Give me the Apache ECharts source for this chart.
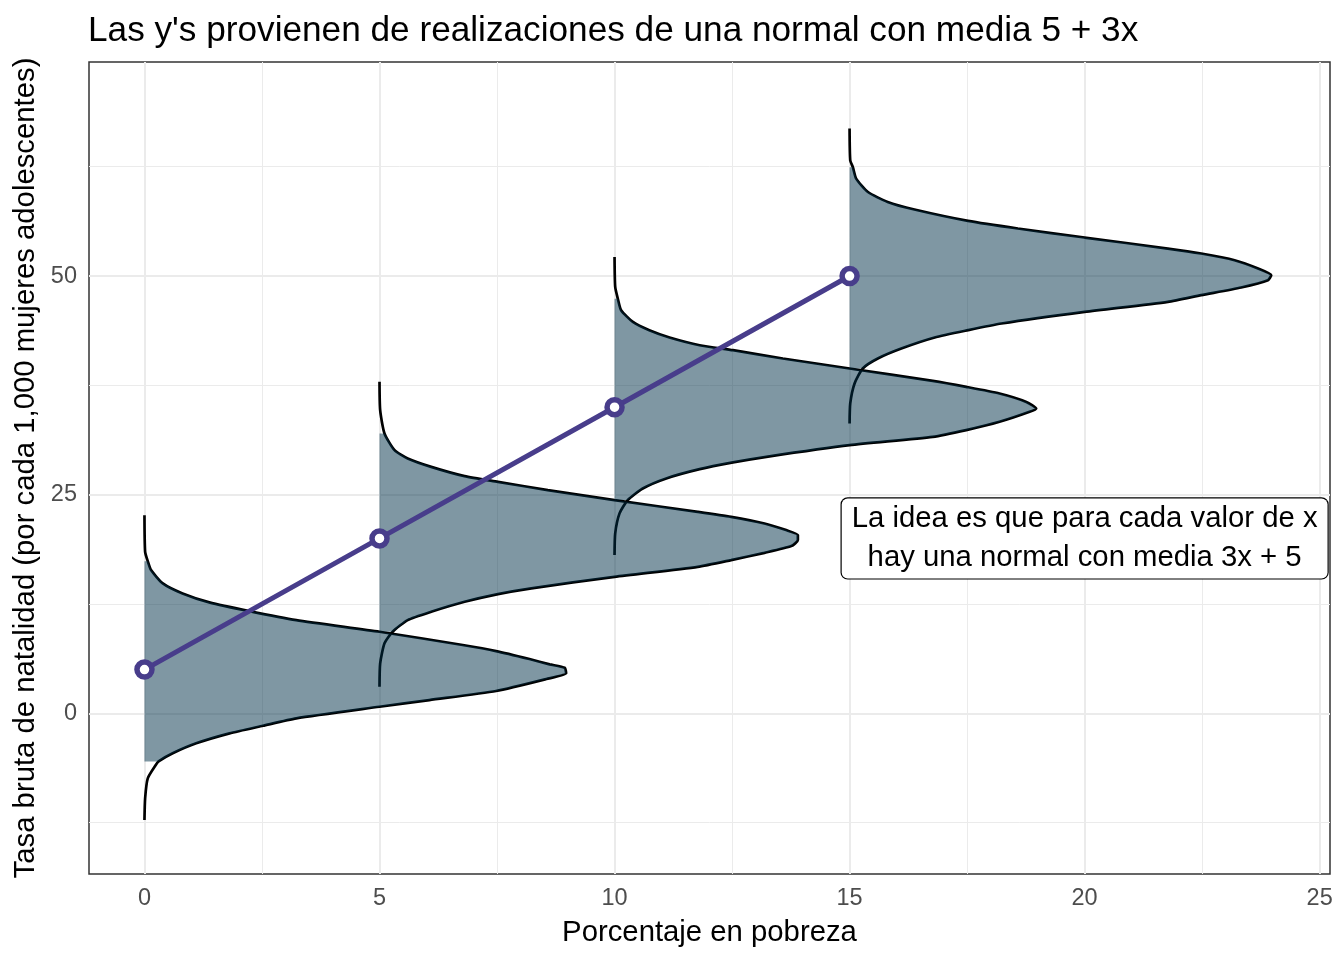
<!DOCTYPE html>
<html>
<head>
<meta charset="utf-8">
<script src="https://cdn.jsdelivr.net/npm/echarts@6.0.0/dist/echarts.min.js"></script>
<style>
  html, body { margin: 0; padding: 0; background: #fff; }
  #main { width: 1344px; height: 960px; }
</style>
</head>
<body>
<div id="main"></div>
<script>
// centres of the normals: x and its mean 5 + 3x
const xMeans = [0, 5, 10, 15]
const yMeans = [5, 20, 35, 50]

// density curves: y value and horizontal width (x units)
const densY0 = [22.66, 18.47, 17.4, 16.38, 14.86, 13.71, 12.69, 11.69, 10.66, 9.33, 7.81, 7.12, 6.21, 5.6, 5.21, 4.57, 3.92, 2.55, 1.52, 0.75, -0.57, -1.42, -2.29, -3.43, -4.57, -5.5, -5.91, -7.43, -9.71, -12.19]
const densW0 = [0, 0.014, 0.07, 0.14, 0.39, 0.81, 1.38, 2.23, 3.23, 5.0, 6.77, 7.48, 8.19, 8.62, 8.94, 8.97, 8.55, 7.48, 6.06, 5.0, 3.23, 2.52, 1.81, 1.1, 0.6, 0.3, 0.24, 0.07, 0.014, 0]

const densY1 = [37.9, 34.66, 32.0, 30.09, 29.14, 28.18, 27.12, 26.47, 25.52, 24.38, 23.04, 22.47, 21.71, 20.95, 20.38, 19.81, 19.12, 18.35, 17.52, 16.75, 15.61, 14.29, 13.63, 12.75, 11.61, 10.66, 9.33, 8.0, 5.71, 3.04]
const densW1 = [0, 0.014, 0.106, 0.32, 0.6, 1.1, 1.81, 2.52, 3.58, 5.0, 6.77, 7.48, 8.19, 8.65, 8.9, 8.9, 8.76, 8.19, 7.48, 6.77, 5.0, 3.23, 2.52, 1.81, 1.1, 0.6, 0.28, 0.106, 0.014, 0]

const densY2 = [52.18, 48.75, 47.4, 46.09, 44.75, 43.8, 42.97, 42.09, 41.52, 40.57, 39.43, 38.01, 37.33, 36.57, 35.61, 34.86, 34.47, 33.33, 32.38, 31.61, 30.66, 29.33, 28.69, 27.92, 26.86, 25.71, 24.38, 22.86, 20.57, 18.09]
const densW2 = [0, 0.014, 0.07, 0.14, 0.39, 0.74, 1.17, 1.81, 2.52, 3.58, 5.0, 6.77, 7.48, 8.19, 8.76, 8.97, 8.83, 8.19, 7.48, 6.77, 5.0, 3.23, 2.52, 1.81, 1.1, 0.6, 0.28, 0.106, 0.014, 0]

const densY3 = [66.86, 63.23, 62.45, 61.14, 59.61, 58.47, 57.6, 56.3, 55.43, 54.4, 53.14, 52.57, 51.81, 50.86, 50.09, 49.52, 48.69, 47.81, 47.04, 45.9, 44.57, 43.81, 42.97, 41.71, 40.57, 39.43, 37.71, 35.43, 33.14]
const densW3 = [0, 0.014, 0.07, 0.14, 0.39, 0.81, 1.38, 2.52, 3.58, 5.0, 6.77, 7.48, 8.19, 8.69, 8.97, 8.9, 8.33, 7.48, 6.77, 5.0, 3.23, 2.52, 1.81, 1.1, 0.6, 0.28, 0.106, 0.014, 0]

// y range that is shaded under each curve [low, high]
const fillRange = [[-5.5, 17.4], [9.33, 32.0], [24.38, 47.4], [39.43, 62.45]]

// ticks and grid
const xTicks = [0, 5, 10, 15, 20, 25]
const xMinor = [2.5, 7.5, 12.5, 17.5, 22.5]
const yTicks = [0, 25, 50]
const yMinor = [-12.5, 12.5, 37.5, 62.5]

const note = "La idea es que para cada valor de x\nhay una normal con media 3x + 5"

const densY = [densY0, densY1, densY2, densY3]
const densW = [densW0, densW1, densW2, densW3]

const FONT = "'Liberation Sans', Arial, Helvetica, sans-serif"
const FILL = "rgba(0, 47, 71, 0.5)"
const PURPLE = "#483d8b"

const gridLines = [
  ...xTicks.map(v => ({ xAxis: v, lineStyle: { width: 2 } })),
  ...xMinor.map(v => ({ xAxis: v, lineStyle: { width: 1 } })),
  ...yTicks.map(v => ({ yAxis: v, lineStyle: { width: 2 } })),
  ...yMinor.map(v => ({ yAxis: v, lineStyle: { width: 1 } })),
]

const curveSeries = densY.map((ys, k) => ({
  type: "line",
  data: ys.map((y, i) => [xMeans[k] + densW[k][i], y]),
  showSymbol: false,
  smooth: 0.2,
  lineStyle: { color: "#000", width: 2.7 },
  z: 3,
}))

const fillSeries = densY.map((ys, k) => ({
  type: "custom",
  data: [[xMeans[k], yMeans[k]]],
  z: 4,
  renderItem: (params, api) => {
    const [lo, hi] = fillRange[k]
    const pts = [api.coord([xMeans[k], hi])]
    ys.forEach((y, i) => {
      if (y <= hi && y >= lo) pts.push(api.coord([xMeans[k] + densW[k][i], y]))
    })
    pts.push(api.coord([xMeans[k], lo]))
    return { type: "polygon", shape: { points: pts }, style: { fill: FILL } }
  },
}))

const myChart = echarts.init(document.getElementById("main"))

myChart.setOption({
  backgroundColor: "#fff",
  animation: false,
  textStyle: { fontFamily: FONT },
  title: {
    text: "Las y's provienen de realizaciones de una normal con media 5 + 3x",
    left: 83,
    top: 9,
    textStyle: { fontFamily: FONT, fontSize: 35.2, fontWeight: "normal", color: "#000" },
  },
  grid: {
    left: 89, right: 14, top: 62, bottom: 86,
    show: true, borderColor: "#333", borderWidth: 1.5,
  },
  xAxis: {
    type: "value",
    min: -1.18, max: 25.22,
    name: "Porcentaje en pobreza",
    nameLocation: "middle",
    nameGap: 44,
    nameTextStyle: { fontFamily: FONT, fontSize: 29.3, color: "#000" },
    axisLine: { show: false },
    splitLine: { show: false },
    axisTick: { show: true, customValues: xTicks, length: 7, lineStyle: { color: "#333", width: 2 } },
    axisLabel: { customValues: xTicks, color: "#4d4d4d", fontSize: 23.5, margin: 13, fontFamily: FONT },
  },
  yAxis: {
    type: "value",
    min: -18.37, max: 74.47,
    name: "Tasa bruta de natalidad (por cada 1,000 mujeres adolescentes)",
    nameLocation: "middle",
    nameGap: 48,
    nameRotate: 90,
    nameTextStyle: { fontFamily: FONT, fontSize: 29.3, color: "#000" },
    axisLine: { show: false },
    splitLine: { show: false },
    axisTick: { show: true, customValues: yTicks, length: 7, lineStyle: { color: "#333", width: 2 } },
    axisLabel: { customValues: yTicks, color: "#4d4d4d", fontSize: 23.5, margin: 12, fontFamily: FONT },
  },
  series: [
    {
      // panel grid lines
      type: "line",
      data: [],
      markLine: {
        silent: true,
        symbol: "none",
        z: 1,
        label: { show: false },
        lineStyle: { color: "#ebebeb", type: "solid" },
        data: gridLines,
      },
    },
    ...curveSeries,
    ...fillSeries,
    {
      type: "line",
      data: xMeans.map((x, i) => [x, yMeans[i]]),
      symbol: "circle",
      symbolSize: 15,
      lineStyle: { color: PURPLE, width: 5 },
      itemStyle: { color: "#fff", borderColor: PURPLE, borderWidth: 5.5 },
      z: 6,
    },
    {
      type: "scatter",
      data: [[20, 20]],
      symbolSize: 1,
      itemStyle: { color: "#fff", opacity: 1 },
      z: 7,
      label: {
        show: true,
        position: "inside",
        formatter: note,
        fontFamily: FONT,
        fontSize: 29.3,
        lineHeight: 39,
        color: "#000",
        opacity: 1,
        align: "center",
        backgroundColor: "#fff",
        borderColor: "#000",
        borderWidth: 1.2,
        borderRadius: 6,
        padding: [1, 10],
      },
    },
  ],
})
</script>
</body>
</html>
